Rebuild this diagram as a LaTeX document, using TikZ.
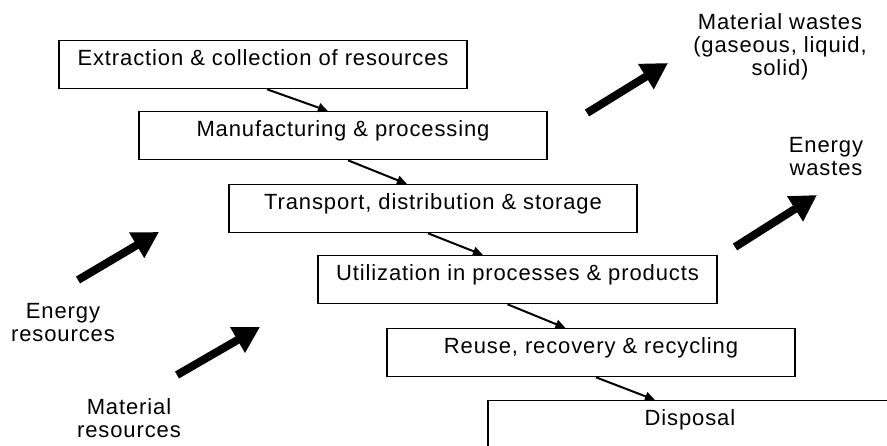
\documentclass[tikz,border=0pt]{standalone}
\usepackage{fontspec}
\setmainfont{Liberation Sans}[LetterSpace=4]
\usetikzlibrary{arrows.meta,positioning,calc}

\begin{document}
\begin{tikzpicture}[x=1pt, y=-1pt,
  font=\fontsize{22}{23}\selectfont, >={Triangle[length=10pt, width=9pt]},
  stg/.style={draw=black, line width=1.3pt, inner sep=0pt, anchor=north,
    minimum width=408pt, text height=25pt, text depth=23pt},
  lb/.style={inner sep=0pt, anchor=north, align=center},
  fl/.style={->, line width=2pt},
  big/.style={-{Triangle[length=26pt, width=28pt]}, line width=8pt},
]
\useasboundingbox (0,0) rectangle (887,445);
\clip (0,0) rectangle (887,445);
% life cycle stages
\node[stg] (ext) at (263,40) {Extraction \& collection of resources};
\node[stg] (man) at (343,111) {Manufacturing \& processing};
\node[stg] (tra) at (433,184) {Transport, distribution \& storage};
\node[stg, minimum width=399pt] (uti) at (517.5,255)
  {Utilization in processes \& products};
\node[stg] (reu) at (591,328) {Reuse, recovery \& recycling};
\node[stg, minimum width=404pt] (dis) at (690,400) {Disposal};
\foreach \a/\b/\s/\e in {ext/man/4/65, man/tra/5/64, tra/uti/-5/50,
    uti/reu/-10/48, reu/dis/5/64} {
  \draw[fl] ([xshift=\s pt]\a.south) -- ([xshift=\e pt]\a.south |- \b.north);
}
% inputs and outputs
\node[lb] (er) at (63,303) {Energy\\resources};
\node[lb] (mr) at (129,398) {Material\\resources};
\node[lb] (mw) at (780,13) {Material wastes\\(gaseous, liquid,\\solid)};
\node[lb] (ew) at (826,137) {Energy\\wastes};
\coordinate (erT) at (78,280);
\coordinate (erH) at (159,232);
\coordinate (mrT) at (177,375);
\coordinate (mrH) at (260,327);
\coordinate (mwT) at (587,113);
\coordinate (mwH) at (668,63);
\coordinate (ewT) at (735,247);
\coordinate (ewH) at (817,195);
\foreach \p in {er,mr,mw,ew} {
  \draw[big] (\p T) -- (\p H);
}
\end{tikzpicture}
\end{document}
